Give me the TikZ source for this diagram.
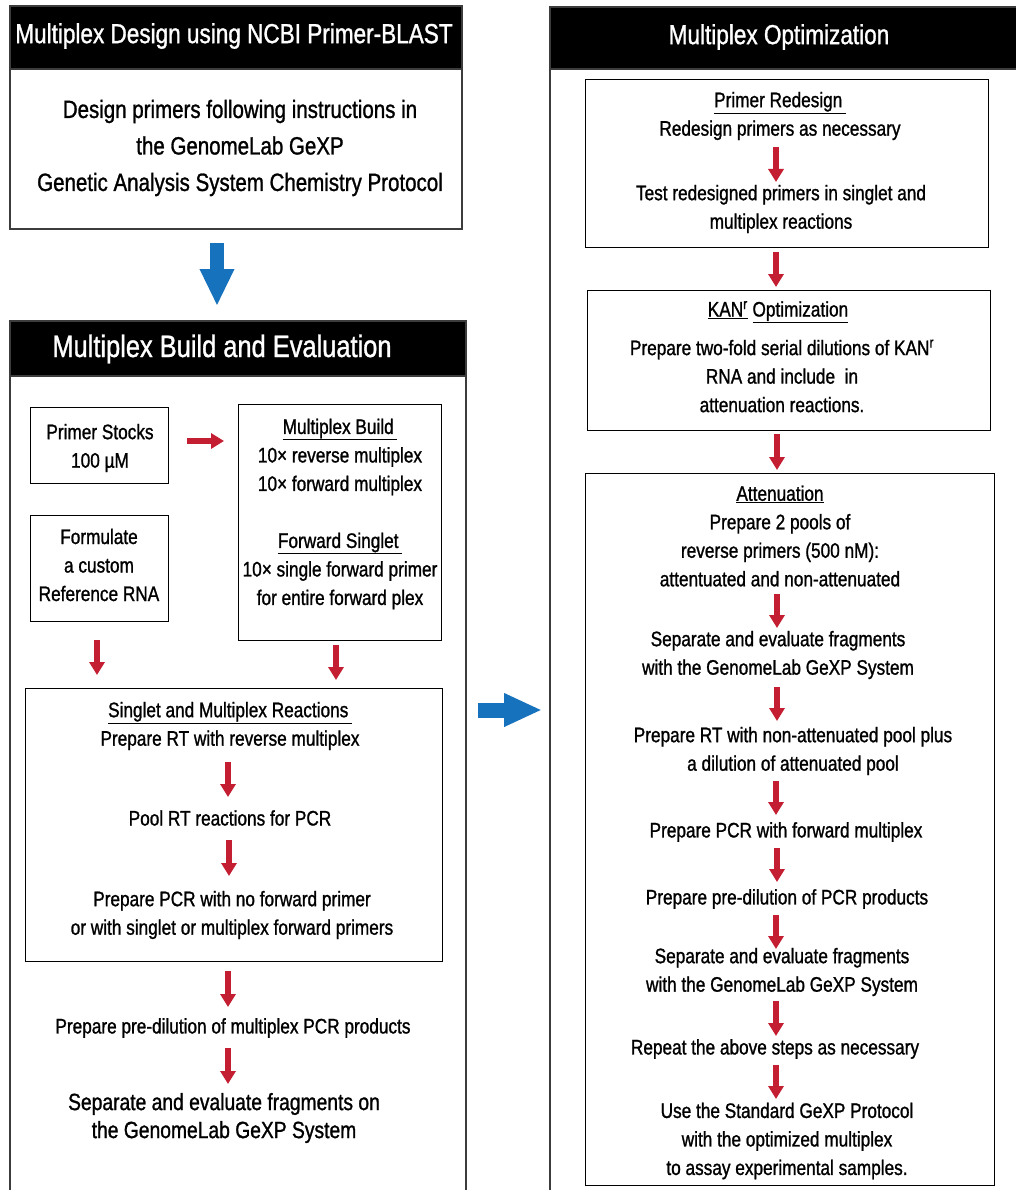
\documentclass[tikz,border=0pt]{standalone}
\usepackage{fontspec}
\setmainfont{Liberation Sans}[FakeStretch=0.82, BoldFont={Liberation Sans}, BoldFeatures={FakeBold=1.1}]
\usetikzlibrary{arrows.meta}
\definecolor{arrred}{RGB}{196,30,50}
\definecolor{arrblue}{RGB}{22,114,188}
\definecolor{frame}{RGB}{60,60,60}
\tikzset{
  panel/.style={draw=frame, line width=1.6pt, anchor=north west, inner sep=0pt},
  hdr/.style={fill=black, draw=frame, line width=1.6pt, anchor=north west, text=white, inner sep=0pt},
  stepbox/.style={draw=black, line width=1.4pt, anchor=north west, inner sep=0pt},
  body/.style={font=\fontsize{21}{28.5}\selectfont\bfseries, align=center, inner sep=0pt},
  ttl/.style={text=white, inner sep=0pt},
  redarr/.style={draw=arrred, line width=6pt, -{Triangle[width=15pt,length=13pt]}},
  bluearr/.style={draw=arrblue, line width=14pt, -{Triangle[width=32pt,length=37pt]}},
}
\newcommand{\ul}[1]{\underline{#1\,}}
\begin{document}
\begin{tikzpicture}[x=1pt,y=-1pt]
\useasboundingbox (0,0) rectangle (1016,1190);
\clip (0,0) rectangle (1016,1190);
\fill[white] (0,0) rectangle (1016,1190);

% ---------- Panel A ----------
\node[panel, minimum width=452pt, minimum height=223pt] (pA) at (9,5) {};
\node[hdr, minimum width=452pt, minimum height=63pt] (hA) at (9,5) {};
\node[ttl, font=\fontsize{27.5}{30}\selectfont\bfseries] (tA) at (234,36) {Multiplex Design using NCBI Primer-BLAST};
\node[body, font=\fontsize{25}{36.5}\selectfont\bfseries] (dA) at (240,148) {Design primers following instructions in\\the GenomeLab GeXP\\Genetic Analysis System Chemistry Protocol};

% ---------- Panel B ----------
\node[panel, minimum width=456pt, minimum height=900pt] (pB) at (9,320) {};
\node[hdr, minimum width=456pt, minimum height=55pt] (hB) at (9,320) {};
\node[ttl, font=\fontsize{31}{34}\selectfont\bfseries] (tB) at (222,349) {Multiplex Build and Evaluation};

\node[stepbox, minimum width=138pt, minimum height=76pt] (bStock) at (30,407) {};
\node[body] (tStock) at (100,448) {Primer Stocks\\100 µM};
\node[stepbox, minimum width=138pt, minimum height=106pt] (bForm) at (30,515) {};
\node[body] (tForm) at (99,565) {Formulate\\a custom\\Reference RNA};
\node[stepbox, minimum width=203pt, minimum height=236pt] (bBuild) at (238,404) {};
\node[body] (tBuild) at (340,514) {\ul{Multiplex Build}\\10× reverse multiplex\\10× forward multiplex\\[28.5pt]\ul{Forward Singlet}\\10× single forward primer\\for entire forward plex};

\node[stepbox, minimum width=417pt, minimum height=273pt] (bSing) at (25,688) {};
\node[body] (tS1) at (230,726) {\ul{Singlet and Multiplex Reactions}\\Prepare RT with reverse multiplex};
\node[body] (tS2) at (230,818) {Pool RT reactions for PCR};
\node[body] (tS3) at (232,915) {Prepare PCR with no forward primer\\or with singlet or multiplex forward primers};
\node[body] (tS4) at (233,1028) {Prepare pre-dilution of multiplex PCR products};
\node[body, font=\fontsize{23.5}{28}\selectfont\bfseries] (tS5) at (224,1118) {Separate and evaluate fragments on\\the GenomeLab GeXP System};

\coordinate (a1s) at (187,441); \coordinate (a1e) at (224,441);
\draw[redarr] (a1s) -- (a1e);
\coordinate (a2s) at (97,640); \coordinate (a2e) at (97,675);
\draw[redarr] (a2s) -- (a2e);
\coordinate (a3s) at (336,645); \coordinate (a3e) at (336,680);
\draw[redarr] (a3s) -- (a3e);
\coordinate (a4s) at (228,762); \coordinate (a4e) at (228,797);
\draw[redarr] (a4s) -- (a4e);
\coordinate (a5s) at (229,840); \coordinate (a5e) at (229,876);
\draw[redarr] (a5s) -- (a5e);
\coordinate (a6s) at (228,971); \coordinate (a6e) at (228,1007);
\draw[redarr] (a6s) -- (a6e);
\coordinate (a7s) at (228,1048); \coordinate (a7e) at (228,1084);
\draw[redarr] (a7s) -- (a7e);

% ---------- Blue arrows ----------
\coordinate (b1s) at (217,243); \coordinate (b1e) at (217,306);
\draw[bluearr] (b1s) -- (b1e);
\coordinate (b2s) at (478,710); \coordinate (b2e) at (542,710);
\draw[bluearr, line width=15pt, -{Triangle[width=31pt,length=38pt]}] (b2s) -- (b2e);

% ---------- Panel C ----------
\node[panel, minimum width=500pt, minimum height=1220pt] (pC) at (549,6) {};
\node[hdr, minimum width=500pt, minimum height=62pt] (hC) at (549,6) {};
\node[ttl, font=\fontsize{27.5}{30}\selectfont\bfseries] (tC) at (779,37) {Multiplex Optimization};

\node[stepbox, minimum width=403pt, minimum height=168pt] (bRed) at (585,79) {};
\node[body] (tR1) at (780,116) {\ul{Primer Redesign}\\Redesign primers as necessary};
\node[body] (tR2) at (781,209) {Test redesigned primers in singlet and\\multiplex reactions};

\node[stepbox, minimum width=403pt, minimum height=140pt] (bKan) at (587,290) {};
\node[body] (tK1) at (778,312) {\underline{KAN\textsuperscript{r}} \underline{Optimization}};
\node[body] (tK2) at (782,376) {Prepare two-fold serial dilutions of KAN\textsuperscript{r}\\RNA and include~~in\\attenuation reactions.};

\node[stepbox, minimum width=409pt, minimum height=712pt] (bAtt) at (585,473) {};
\node[body] (tT1) at (780,536) {\underline{Attenuation}\\Prepare 2 pools of\\reverse primers (500 nM):\\attentuated and non-attenuated};
\node[body] (tT2) at (778,655) {Separate and evaluate fragments\\with the GenomeLab GeXP System};
\node[body] (tT3) at (793,751) {Prepare RT with non-attenuated pool plus\\a dilution of attenuated pool};
\node[body] (tT4) at (786,832) {Prepare PCR with forward multiplex};
\node[body] (tT5) at (787,899) {Prepare pre-dilution of PCR products};
\node[body] (tT6) at (782,972) {Separate and evaluate fragments\\with the GenomeLab GeXP System};
\node[body] (tT7) at (775,1049) {Repeat the above steps as necessary};
\node[body] (tT8) at (787,1141) {Use the Standard GeXP Protocol\\with the optimized multiplex\\to assay experimental samples.};

\coordinate (c1s) at (776,147); \coordinate (c1e) at (776,182);
\draw[redarr] (c1s) -- (c1e);
\coordinate (c2s) at (776,252); \coordinate (c2e) at (776,287);
\draw[redarr] (c2s) -- (c2e);
\coordinate (c3s) at (777,434); \coordinate (c3e) at (777,470);
\draw[redarr] (c3s) -- (c3e);
\coordinate (c4s) at (777,594); \coordinate (c4e) at (777,628);
\draw[redarr] (c4s) -- (c4e);
\coordinate (c5s) at (777,687); \coordinate (c5e) at (777,721);
\draw[redarr] (c5s) -- (c5e);
\coordinate (c6s) at (776,781); \coordinate (c6e) at (776,815);
\draw[redarr] (c6s) -- (c6e);
\coordinate (c7s) at (777,848); \coordinate (c7e) at (777,882);
\draw[redarr] (c7s) -- (c7e);
\coordinate (c8s) at (776,915); \coordinate (c8e) at (776,949);
\draw[redarr] (c8s) -- (c8e);
\coordinate (c9s) at (776,1001); \coordinate (c9e) at (776,1036);
\draw[redarr] (c9s) -- (c9e);
\coordinate (c10s) at (776,1065); \coordinate (c10e) at (776,1099);
\draw[redarr] (c10s) -- (c10e);
\end{tikzpicture}
\end{document}
